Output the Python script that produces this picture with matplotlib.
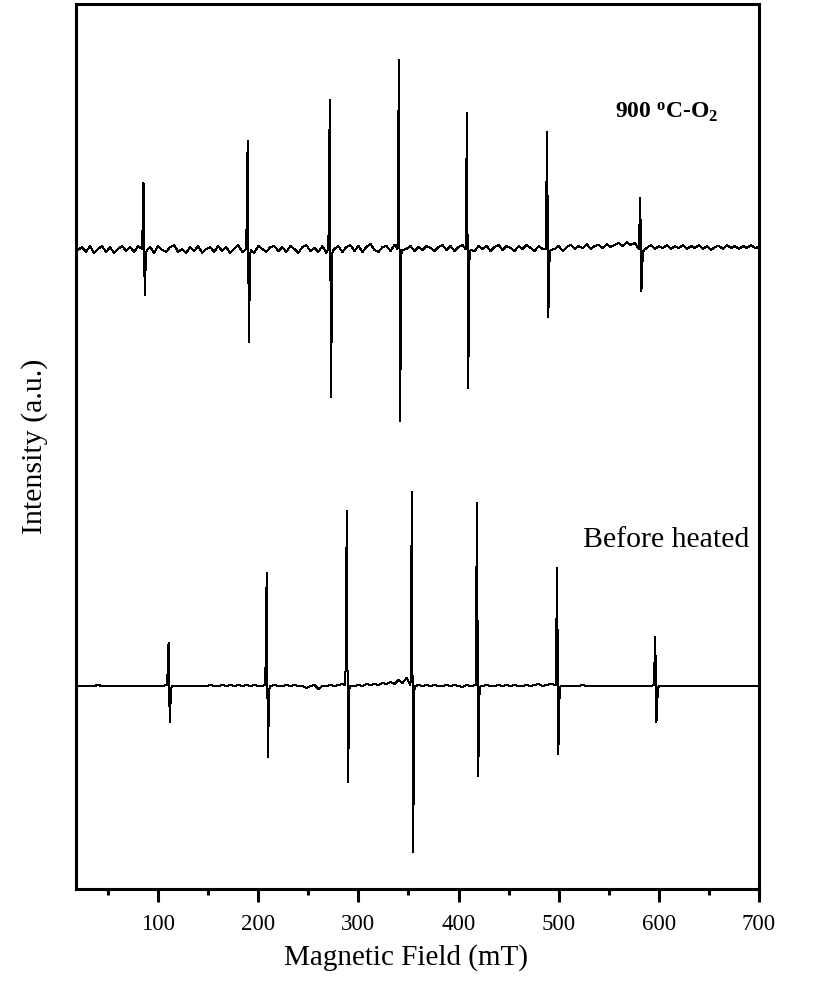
import numpy as np
import matplotlib
matplotlib.use('Agg')
import matplotlib.pyplot as plt
from matplotlib.ticker import MultipleLocator


plt.rcParams['font.family'] = ['Liberation Serif', 'DejaVu Serif']
plt.rcParams['mathtext.fontset'] = 'custom'
plt.rcParams['mathtext.rm'] = 'Liberation Serif'
plt.rcParams['mathtext.bf'] = 'Liberation Serif:bold'


# baseline sampling (mT) and baseline noise (a.u., ~1 px)
field_grid = np.arange(20, 701, 4)

noise_o2 = [
    0, 3, -2, 4, -3, 1, 4, -2, 3, -3, 1, 4, -1, 3, -2, 4, 1,
    -2, 3, -3, 4, 0, -2, 3, 5, -2, 1, -3, 3, -1, 4, -3, 1, 3,
    -2, 4, -1, 3, -3, 1, 5, -2, 3, 0, -3, 4, 1, -2, 3, 4, -1,
    3, -2, 4, 1, -3, 3, 5, -1, 2, -2, 4, -3, 3, 1, 4, -2, 3,
    5, -1, 4, -2, 3, 6, 0, -2, 3, 4, -1, 5, -2, 3, 1, 4, -1,
    3, 0, 4, 2, -1, 3, 5, 0, 4, -1, 3, 5, 0, 3, -1, 4, 1,
    4, -1, 3, 5, 0, 4, 2, -1, 4, 1, 5, 2, -1, 4, 1, 3, 4,
    1, 4, -1, 3, 5, 1, 4, 2, 6, 1, 4, 5, 2, 6, 3, 5, 7,
    4, 8, 5, 7, 3, 6, 2, 5, 1, 4, 2, 5, 1, 4, 2, 5, 1,
    4, 2, 5, 1, 4, 0, 3, 4, 1, 5, 2, 4, 1, 4, 2, 5, 2,
    3,
]

noise_before = [
    0, 0, 0, 0, 0, 1, 0, 0, 0, 0, 0, 0, 0, 0, 0, 0, 0,
    0, 0, 0, 0, 0, 0, -1, 0, 0, 0, 0, 0, 0, 0, 0, 0, 1,
    0, 0, 1, 0, 1, 0, 1, 0, 1, 0, 1, 0, 0, 1, 0, 1, 0,
    0, 1, 0, 1, 0, 0, -2, 0, 1, -3, 0, 0, 1, 0, 1, 2, 0,
    1, 0, 1, 0, 2, 1, 2, 1, 3, 2, 4, 2, 6, 3, 8, 5, 3,
    1, 0, 1, 0, 1, 0, 0, 1, 0, 1, 0, -1, 1, 0, 0, -1, 0,
    1, 0, 0, 1, 0, 1, 0, 1, 0, 0, 1, 0, 1, 2, 0, 1, 2,
    0, 1, 0, 0, 0, 0, 0, 1, 0, 0, 0, 0, 0, 0, 0, 0, 0,
    0, 0, 0, 0, 0, 0, 0, 0, 0, 1, 0, 0, 0, 0, 0, 0, 0,
    0, 0, 0, 0, 0, 0, 0, 0, 0, 0, 0, 0, 0, 0, 0, 0, 0,
    0,
]

# hyperfine lines: centre field (mT), positive lobe, negative lobe
peak_field_o2 = [86, 190, 272, 341, 409, 489, 582]
peak_top_o2 = [67, 109, 150, 190, 137, 118, 52]
peak_bot_o2 = [-45, -92, -147, -171, -138, -67, -41]

peak_field_before = [111, 209, 289, 354, 419, 499, 597]
peak_top_before = [43, 113, 175, 194, 183, 118, 49]
peak_bot_before = [-36, -71, -96, -166, -90, -68, -36]


def build_trace(noise, centers, tops, bots):
    x = []
    y = []
    for f, v in zip(field_grid, noise):
        if min(abs(f - c) for c in centers) > 3:
            x.append(f)
            y.append(v)
    for c, t, b in zip(centers, tops, bots):
        x += [c - 2.0, c - 0.6, c + 0.6, c + 2.0, c + 3.0]
        y += [1, t, b, -3, 0]
    order = np.argsort(x)
    return np.array(x)[order], np.array(y)[order]


def plot():
    fig = plt.figure(figsize=(8.25, 9.93), dpi=100)
    ax = fig.add_axes([76 / 825, 104 / 993, 683 / 825, 885 / 993])

    x1, y1 = build_trace(noise_o2, peak_field_o2, peak_top_o2, peak_bot_o2)
    x2, y2 = build_trace(noise_before, peak_field_before, peak_top_before, peak_bot_before)
    ax.plot(x1, y1 + 639, color='black', lw=0.72, antialiased=False)
    ax.plot(x2, y2 + 203, color='black', lw=0.72, antialiased=False)

    ax.set_xlim(18, 700)
    ax.set_ylim(0, 885)
    ax.xaxis.set_major_locator(MultipleLocator(100))
    ax.xaxis.set_minor_locator(MultipleLocator(50))
    ax.set_xticks([100, 200, 300, 400, 500, 600, 700])
    ax.set_yticks([])
    ax.tick_params(axis='x', which='major', direction='out', length=9, width=2.2,
                   labelsize=16.5, pad=9)
    ax.tick_params(axis='x', which='minor', direction='out', length=4.5, width=2.2)
    for s in ax.spines.values():
        s.set_linewidth(2.2)

    ax.set_xlabel('Magnetic Field (mT)', fontsize=21)
    ax.xaxis.set_label_coords(0.483, -0.062)
    ax.set_ylabel('Intensity (a.u.)', fontsize=21.5)
    ax.yaxis.set_label_coords(-0.041, 0.5)

    ax.text(556, 777, r'900 $\mathbf{^{o}}$C-O$\mathbf{_{2}}$', fontsize=17,
            fontweight='bold', va='center', ha='left')
    ax.text(524, 349, 'Before heated', fontsize=21.5, va='center', ha='left')

    fig.savefig('out.png', dpi=100)


def main():
    plot()


if __name__ == '__main__':
    main()
